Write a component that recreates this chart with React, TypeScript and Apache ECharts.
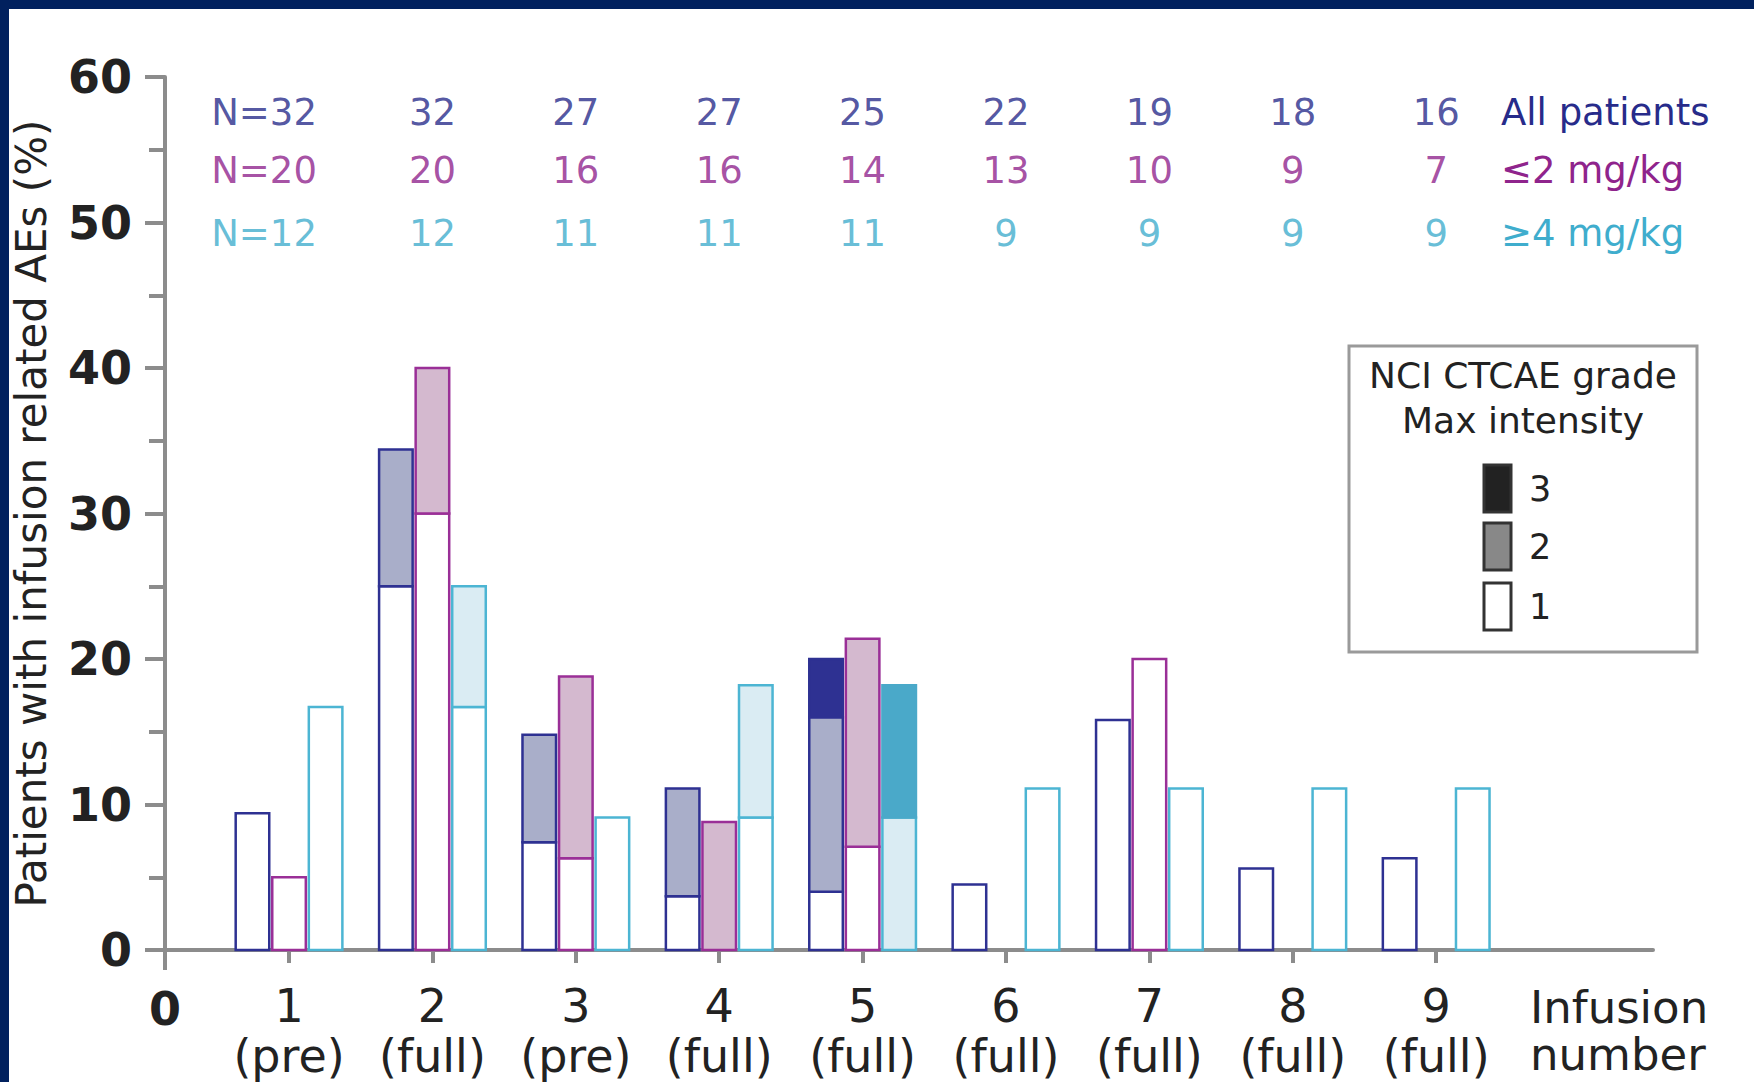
import { useEffect, useRef } from "react";
import * as echarts from "echarts";

// Infusion number and dose stage
const infusions = [1, 2, 3, 4, 5, 6, 7, 8, 9];
const doseLabels = ["(pre)", "(full)", "(pre)", "(full)", "(full)", "(full)", "(full)", "(full)", "(full)"];

// Patients treated at each infusion
const nAll = [32, 32, 27, 27, 25, 22, 19, 18, 16];
const nLow = [20, 20, 16, 16, 14, 13, 10, 9, 7];
const nHigh = [12, 12, 11, 11, 11, 9, 9, 9, 9];

// % of patients with infusion related AEs, split by maximum NCI CTCAE grade
const allGrade1 = [9.4, 25.0, 7.4, 3.7, 4.0, 4.5, 15.8, 5.6, 6.3];
const allGrade2 = [0, 9.4, 7.4, 7.4, 12.0, 0, 0, 0, 0];
const allGrade3 = [0, 0, 0, 0, 4.0, 0, 0, 0, 0];
const lowGrade1 = [5.0, 30.0, 6.3, 0, 7.1, 0, 20.0, 0, 0];
const lowGrade2 = [0, 10.0, 12.5, 8.8, 14.3, 0, 0, 0, 0];
const lowGrade3 = [0, 0, 0, 0, 0, 0, 0, 0, 0];
const highGrade1 = [16.7, 16.7, 9.1, 9.1, 0, 11.1, 11.1, 11.1, 11.1];
const highGrade2 = [0, 8.3, 0, 9.1, 9.1, 0, 0, 0, 0];
const highGrade3 = [0, 0, 0, 0, 9.1, 0, 0, 0, 0];

const groupNames = ["All patients", "≤2 mg/kg", "≥4 mg/kg"];
const gradeNames = ["3", "2", "1"];
const yTitle = "Patients with infusion related AEs (%)";
const xTitle = "Infusion\nnumber";
const legendTitle = ["NCI CTCAE grade", "Max intensity"];

const FONT = "'DejaVu Sans', Verdana, sans-serif";
const INK = "#222222";
const AXIS = "#8c8c8c";
const NAVY = "#01215e";

const groupStyles = [
  { stroke: "#2e3192", text: "#272b8a", fill: ["#ffffff", "#a9aec9", "#2e3192"] },
  { stroke: "#9a2f97", text: "#8f248c", fill: ["#ffffff", "#d4b9cf", "#6d1f6b"] },
  { stroke: "#4cb5d3", text: "#3fadcd", fill: ["#ffffff", "#daecf3", "#4aa9c9"] },
];

const GROUP_OFFSET = [-0.255, 0, 0.255];
const HALF_BAR = 0.117;

function buildSegments() {
  const groups = [
    [allGrade1, allGrade2, allGrade3],
    [lowGrade1, lowGrade2, lowGrade3],
    [highGrade1, highGrade2, highGrade3],
  ];
  const out: number[][] = [];
  groups.forEach((grades, g) => {
    infusions.forEach((inf, i) => {
      let base = 0;
      grades.forEach((arr, k) => {
        const v = arr[i];
        if (v > 0) {
          out.push([inf, base, base + v, g, k]);
          base += v;
        }
      });
    });
  });
  return out;
}

export default function App() {
  const ref = useRef<HTMLDivElement>(null);

  useEffect(() => {
    if (!ref.current) return;
    const chart = echarts.init(ref.current, undefined, { renderer: "svg" });

    const gridLeft = 165;
    const gridRight = 1653;
    const gridTop = 77;
    const gridBottom = 950;
    const yMax = 60;
    const unit = (gridBottom - gridTop) / yMax;
    const rowPx = [112, 170, 233];
    const rowY = rowPx.map((py) => (gridBottom - py) / unit);

    const nRows = [nAll, nLow, nHigh];
    const nSeries = nRows.map((row, r) => ({
      type: "scatter",
      silent: true,
      symbolSize: 1,
      itemStyle: { color: "rgba(0,0,0,0)" },
      data: row.map((n, i) => ({
        value: [infusions[i], rowY[r], n],
        label: i === 0 ? { offset: [-25, 0] } : undefined,
      })),
      label: {
        show: true,
        position: "inside",
        fontFamily: FONT,
        fontSize: 37,
        color: groupStyles[r].text,
        formatter: (p: any) => (p.dataIndex === 0 ? `N=${p.value[2]}` : `${p.value[2]}`),
      },
      z: 5,
    }));

    const graphic: any[] = [
      // frame band
      { type: "rect", shape: { x: 0, y: 0, width: 1754, height: 9 }, style: { fill: NAVY }, z: 100 },
      { type: "rect", shape: { x: 0, y: 0, width: 9, height: 1082 }, style: { fill: NAVY }, z: 100 },
      // axis stubs past the origin
      { type: "line", shape: { x1: 145, y1: gridBottom, x2: gridLeft, y2: gridBottom }, style: { stroke: AXIS, lineWidth: 4 } },
      { type: "line", shape: { x1: gridLeft, y1: gridBottom, x2: gridLeft, y2: 970 }, style: { stroke: AXIS, lineWidth: 4 } },
      // y axis title
      {
        type: "text",
        x: 31,
        y: (gridTop + gridBottom) / 2,
        rotation: Math.PI / 2,
        style: { text: yTitle, font: `42px ${FONT}`, fill: INK, align: "center", verticalAlign: "middle" },
      },
      // origin label
      {
        type: "text",
        x: gridLeft,
        y: 1009,
        style: { text: "0", font: `bold 46px ${FONT}`, fill: INK, align: "center", verticalAlign: "middle" },
      },
      // x axis title
      {
        type: "text",
        x: 1530,
        y: 1031,
        style: { text: xTitle, font: `45px ${FONT}`, lineHeight: 47, fill: INK, align: "left", verticalAlign: "middle" },
      },
    ];

    // group names at the end of each N row
    rowPx.forEach((py, r) => {
      graphic.push({
        type: "text",
        x: 1501,
        y: py,
        style: { text: groupNames[r], font: `37px ${FONT}`, fill: groupStyles[r].text, align: "left", verticalAlign: "middle" },
      });
    });

    // grade legend
    const swatchFill = ["#222222", "#888888", "#ffffff"];
    const swatchTop = [465, 523, 583];
    graphic.push(
      {
        type: "rect",
        shape: { x: 1349, y: 346, width: 348, height: 306 },
        style: { fill: "#ffffff", stroke: "#9a9a9a", lineWidth: 3 },
      },
      {
        type: "text",
        x: 1523,
        y: 375,
        style: { text: legendTitle[0], font: `36px ${FONT}`, fill: INK, align: "center", verticalAlign: "middle" },
      },
      {
        type: "text",
        x: 1523,
        y: 420,
        style: { text: legendTitle[1], font: `36px ${FONT}`, fill: INK, align: "center", verticalAlign: "middle" },
      }
    );
    gradeNames.forEach((g, k) => {
      graphic.push(
        {
          type: "rect",
          shape: { x: 1484, y: swatchTop[k], width: 27, height: 47 },
          style: { fill: swatchFill[k], stroke: "#333333", lineWidth: 3 },
        },
        {
          type: "text",
          x: 1529,
          y: swatchTop[k] + 24,
          style: { text: g, font: `35px ${FONT}`, fill: INK, align: "left", verticalAlign: "middle" },
        }
      );
    });

    const option: any = {
      animation: false,
      backgroundColor: "#ffffff",
      grid: {
        left: gridLeft,
        right: 1754 - gridRight,
        top: gridTop,
        bottom: 1082 - gridBottom,
        containLabel: false,
        outerBoundsMode: "none",
      },
      xAxis: {
        type: "value",
        min: 0.135,
        max: 10.512,
        splitLine: { show: false },
        axisLine: { show: true, onZero: false, lineStyle: { color: AXIS, width: 4 } },
        axisTick: { show: true, customValues: infusions, length: 13, lineStyle: { color: AXIS, width: 4 } },
        axisLabel: {
          show: true,
          customValues: infusions,
          margin: 31,
          color: INK,
          fontFamily: FONT,
          formatter: (v: number) => `{n|${v}}\n{d|${doseLabels[Math.round(v) - 1]}}`,
          rich: {
            n: { fontSize: 46, lineHeight: 50, fontFamily: FONT, color: INK },
            d: { fontSize: 46, lineHeight: 50, fontFamily: FONT, color: INK },
          },
        },
      },
      yAxis: {
        type: "value",
        min: 0,
        max: yMax,
        interval: 10,
        splitLine: { show: false },
        axisLine: { show: true, onZero: false, lineStyle: { color: AXIS, width: 4 } },
        axisTick: { show: true, length: 20, lineStyle: { color: AXIS, width: 4 } },
        minorTick: { show: true, splitNumber: 2, length: 16, lineStyle: { color: AXIS, width: 4 } },
        axisLabel: { fontSize: 46, fontWeight: "bold", color: INK, fontFamily: FONT, margin: 33 },
      },
      graphic,
      series: [
        {
          type: "custom",
          silent: true,
          data: buildSegments(),
          encode: { x: 0, y: [1, 2] },
          renderItem: (_params: any, api: any) => {
            const x = api.value(0);
            const y0 = api.value(1);
            const y1 = api.value(2);
            const g = api.value(3);
            const k = api.value(4);
            const cx = x + GROUP_OFFSET[g];
            const pTop = api.coord([cx - HALF_BAR, y1]);
            const pBot = api.coord([cx + HALF_BAR, y0]);
            const st = groupStyles[g];
            const fill = st.fill[k];
            return {
              type: "rect",
              shape: { x: pTop[0], y: pTop[1], width: pBot[0] - pTop[0], height: pBot[1] - pTop[1] },
              style: { fill, stroke: k === 2 ? fill : st.stroke, lineWidth: 2.5 },
            };
          },
          z: 2,
        },
        ...nSeries,
      ],
    };

    chart.setOption(option);
    return () => chart.dispose();
  }, []);

  return (
    <div
      ref={ref}
      style={{ position: "fixed", left: 0, top: 0, width: 1754, height: 1082, background: "#ffffff" }}
    />
  );
}
